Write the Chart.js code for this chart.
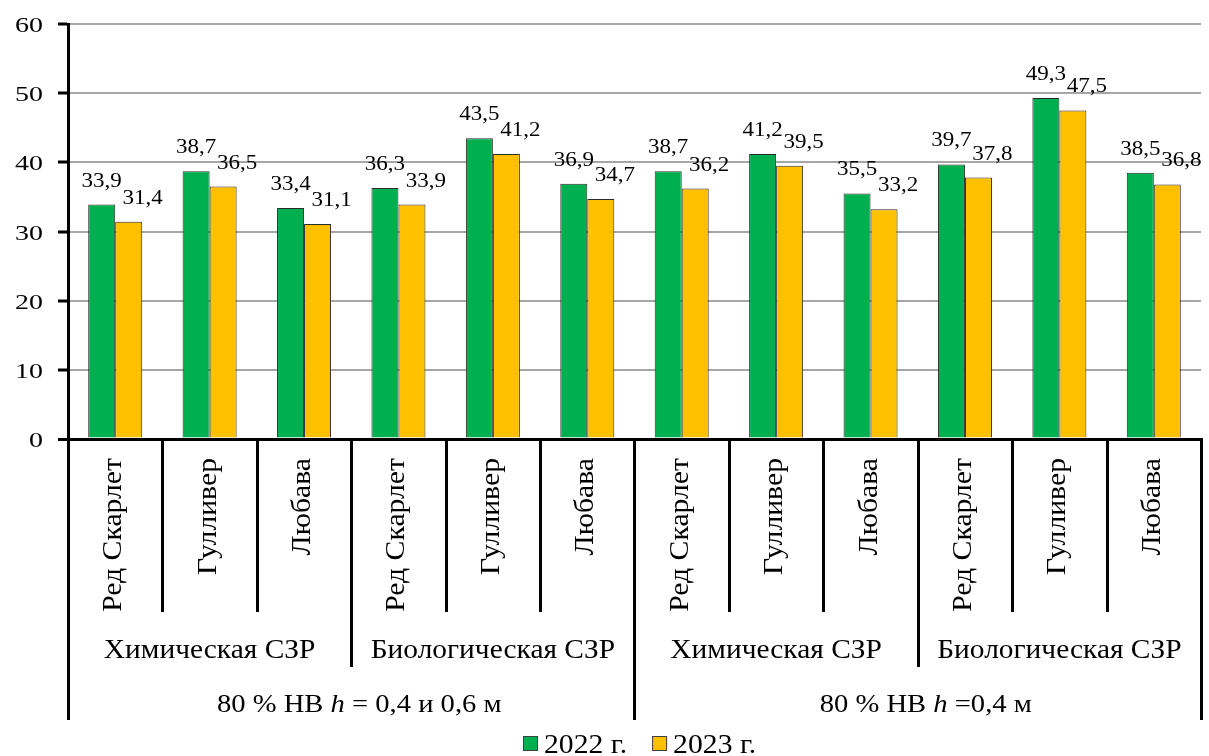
<!DOCTYPE html>
<html lang="ru">
<head>
<meta charset="utf-8">
<title>Урожайность по сортам</title>
<script src="https://cdn.jsdelivr.net/npm/chart.js@4.4.1/dist/chart.umd.min.js"></script>
<style>
  html, body { margin: 0; padding: 0; background: #fff; }
  #wrap { width: 1209px; height: 756px; position: relative; }
</style>
</head>
<body>
<div id="wrap"><canvas id="chart"></canvas></div>
<script>
// Sorts (first label level), protection type (second level), irrigation regime (third level)
const categories = [
  'Ред Скарлет', 'Гулливер', 'Любава',
  'Ред Скарлет', 'Гулливер', 'Любава',
  'Ред Скарлет', 'Гулливер', 'Любава',
  'Ред Скарлет', 'Гулливер', 'Любава'
];
const protectionGroups = ['Химическая СЗР', 'Биологическая СЗР', 'Химическая СЗР', 'Биологическая СЗР'];
const irrigationPrefix = ['80 % НВ ', '80 % НВ '];
const irrigationVar = ['h', 'h'];
const irrigationSuffix = [' = 0,4 и 0,6 м', ' =0,4 м'];

const seriesNames = ['2022 г.', '2023 г.'];
const values2022 = [33.9, 38.7, 33.4, 36.3, 43.5, 36.9, 38.7, 41.2, 35.5, 39.7, 49.3, 38.5];
const values2023 = [31.4, 36.5, 31.1, 33.9, 41.2, 34.7, 36.2, 39.5, 33.2, 37.8, 47.5, 36.8];

const yMin = 0, yMax = 60, yStep = 10;

const FONT = '"Liberation Serif", "Times New Roman", serif';
const GREEN = '#00b050';
const YELLOW = '#ffc000';

const fmt = v => v.toFixed(1).replace('.', ',');

// Text helper: slightly widened serif glyphs, optional rotation
function drawText(ctx, text, x, y, o) {
  ctx.save();
  ctx.translate(x, y);
  if (o.rotate) ctx.rotate(o.rotate);
  ctx.scale(o.stretch || 1, 1);
  ctx.font = (o.italic ? 'italic ' : '') + o.size + 'px ' + FONT;
  ctx.fillStyle = o.color || '#000';
  ctx.textAlign = o.align || 'left';
  ctx.textBaseline = 'alphabetic';
  ctx.fillText(text, 0, 0);
  ctx.restore();
}
function textWidth(ctx, text, o) {
  ctx.save();
  ctx.font = (o.italic ? 'italic ' : '') + o.size + 'px ' + FONT;
  const w = ctx.measureText(text).width * (o.stretch || 1);
  ctx.restore();
  return w;
}

// Value labels above the bars
const valueLabels = {
  id: 'valueLabels',
  afterDatasetsDraw(chart) {
    const ctx = chart.ctx;
    chart.data.datasets.forEach((ds, di) => {
      const meta = chart.getDatasetMeta(di);
      meta.data.forEach((bar, i) => {
        const dx = di === 1 ? 14 : 0;
        drawText(ctx, fmt(ds.data[i]), bar.x + dx, bar.y - 18,
          { size: 20, stretch: 1.15, align: 'center' });
      });
    });
  }
};

// Tick labels of both axes
const axisLabels = {
  id: 'axisLabels',
  afterDraw(chart) {
    const ctx = chart.ctx;
    const ys = chart.scales.y;
    ys.ticks.forEach(t => {
      drawText(ctx, String(t.value), 43, ys.getPixelForValue(t.value) + 8,
        { size: 22, stretch: 1.27, align: 'right' });
    });
    const xs = chart.scales.x;
    chart.data.labels.forEach((lab, i) => {
      drawText(ctx, lab, xs.getPixelForValue(i) + 6, 458,
        { size: 27, stretch: 1.1, align: 'right', rotate: -Math.PI / 2 });
    });
  }
};

// Multi-level category axis: dividers and group captions
const groupAxis = {
  id: 'groupAxis',
  afterDraw(chart) {
    const ctx = chart.ctx;
    const xs = chart.scales.x;
    const n = categories.length;
    const step = xs.getPixelForValue(1) - xs.getPixelForValue(0);
    const edge = i => (i < n ? xs.getPixelForValue(i) - step / 2 : xs.getPixelForValue(n - 1) + step / 2);
    const top = chart.chartArea.bottom;
    const y1 = 612, y2 = 667, y3 = 720;

    ctx.save();
    ctx.strokeStyle = '#000';
    ctx.lineWidth = 3;
    for (let i = 0; i <= n; i++) {
      const x = Math.round(edge(i)) + 0.5;
      const bottom = i % 6 === 0 ? y3 : (i % 3 === 0 ? y2 : y1);
      ctx.beginPath();
      ctx.moveTo(x, top - 1);
      ctx.lineTo(x, bottom);
      ctx.stroke();
    }
    ctx.restore();

    protectionGroups.forEach((g, k) => {
      const cx = (edge(k * 3) + edge(k * 3 + 3)) / 2;
      drawText(ctx, g, cx, 658, { size: 27, stretch: 1.09, align: 'center' });
    });

    // Third level: regime caption with italic variable
    irrigationPrefix.forEach((p, k) => {
      const cx = (edge(k * 6) + edge(k * 6 + 6)) / 2 + 8;
      const oN = { size: 26, stretch: 1.1 }, oI = { size: 26, stretch: 1.1, italic: true };
      const w1 = textWidth(ctx, p, oN);
      const w2 = textWidth(ctx, irrigationVar[k], oI);
      const w3 = textWidth(ctx, irrigationSuffix[k], oN);
      let x = cx - (w1 + w2 + w3) / 2;
      const y = 712;
      drawText(ctx, p, x, y, oN); x += w1;
      drawText(ctx, irrigationVar[k], x, y, oI); x += w2;
      drawText(ctx, irrigationSuffix[k], x, y, oN);
    });
  }
};

// Legend under the axis captions
const bottomLegend = {
  id: 'bottomLegend',
  afterDraw(chart) {
    const ctx = chart.ctx;
    const box = 15, gapBox = 6, gapItem = 25;
    const o = { size: 27, stretch: 1.1 };
    const items = chart.data.datasets.map(ds => ({
      label: ds.label, color: ds.backgroundColor,
      tw: textWidth(ctx, ds.label, o)
    }));
    const total = items.reduce((s, it) => s + box + gapBox + it.tw, 0) + gapItem * (items.length - 1);
    let x = Math.round(640 - total / 2);
    const yc = 743.5;
    items.forEach(it => {
      ctx.save();
      ctx.fillStyle = it.color;
      ctx.fillRect(x, yc - box / 2, box, box);
      ctx.strokeStyle = '#404040';
      ctx.lineWidth = 1;
      ctx.strokeRect(x + 0.5, yc - box / 2 + 0.5, box - 1, box - 1);
      ctx.restore();
      drawText(ctx, it.label, x + box + gapBox, 753, o);
      x += box + gapBox + it.tw + gapItem;
    });
  }
};

new Chart(document.getElementById('chart'), {
  type: 'bar',
  data: {
    labels: categories,
    datasets: [
      { label: seriesNames[0], data: values2022, backgroundColor: GREEN, borderColor: '#2b2b2b', borderWidth: 1 },
      { label: seriesNames[1], data: values2023, backgroundColor: YELLOW, borderColor: '#2b2b2b', borderWidth: 1 }
    ]
  },
  options: {
    responsive: true,
    maintainAspectRatio: false,
    animation: false,
    layout: { padding: { top: 24, right: 8, left: 0, bottom: 0 } },
    datasets: { bar: { categoryPercentage: 0.572, barPercentage: 1.0 } },
    plugins: {
      legend: { display: false },
      tooltip: { enabled: false }
    },
    scales: {
      x: {
        type: 'category',
        afterFit: s => { s.height = 317; },
        grid: { display: false, drawTicks: false },
        border: { display: true, color: '#000', width: 3 },
        ticks: { display: false, autoSkip: false }
      },
      y: {
        min: yMin,
        max: yMax,
        afterFit: s => { s.width = 68; },
        grid: {
          color: ctx => (ctx.tick && ctx.tick.value === 0 ? '#000' : '#a6a6a6'),
          lineWidth: ctx => (ctx.tick && ctx.tick.value === 0 ? 3 : 2),
          tickColor: '#000',
          tickLength: 10,
          tickWidth: 3
        },
        border: { display: true, color: '#000', width: 3 },
        ticks: { display: false, stepSize: yStep }
      }
    }
  },
  plugins: [valueLabels, axisLabels, groupAxis, bottomLegend]
});
</script>
</body>
</html>
